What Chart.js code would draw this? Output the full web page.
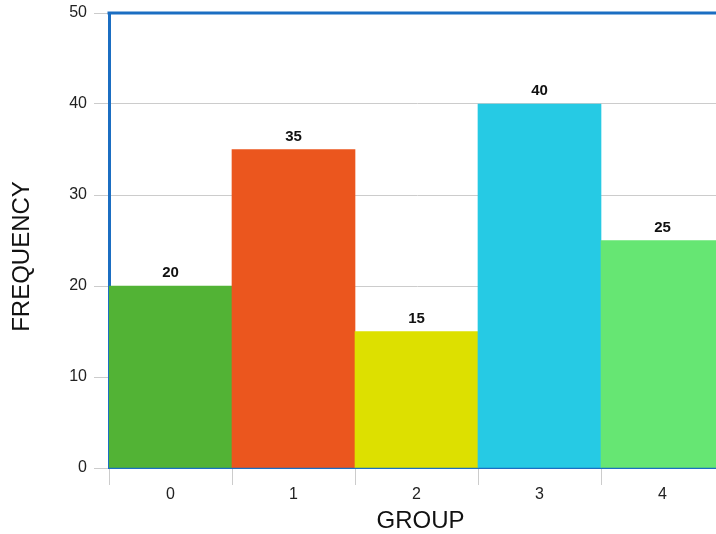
<!DOCTYPE html>
<html>
<head>
<meta charset="utf-8">
<script src="https://cdn.jsdelivr.net/npm/chart.js@4/dist/chart.umd.min.js"></script>
<style>
html,body{margin:0;padding:0;background:#fff;overflow:hidden;width:716px;height:534px;}
canvas{display:block;position:absolute;left:0;top:0;}
</style>
</head>
<body>
<canvas id="c" width="740" height="534"></canvas>
<script>
const categories = ['0', '1', '2', '3', '4'];
const frequencies = [20, 35, 15, 40, 25];
const barColors = ['#52b335', '#eb561e', '#dde000', '#26cae4', '#66e673'];
const yTicks = [0, 10, 20, 30, 40, 50];
const xTitle = 'GROUP';
const yTitle = 'FREQUENCY';

const FONT = "'Liberation Sans', Arial, sans-serif";
const BLUE = '#1b6ec2';

const valueLabels = {
  id: 'valueLabels',
  afterDatasetsDraw(chart) {
    const ctx = chart.ctx;
    const meta = chart.getDatasetMeta(0);
    ctx.save();
    ctx.font = 'bold 15px ' + FONT;
    ctx.fillStyle = '#111';
    ctx.textAlign = 'center';
    ctx.textBaseline = 'alphabetic';
    meta.data.forEach((bar, i) => {
      ctx.fillText(String(chart.data.datasets[0].data[i]), bar.x, bar.y - 9);
    });
    ctx.restore();
  }
};

const frameAndTitles = {
  id: 'frameAndTitles',
  afterDraw(chart) {
    const {ctx, chartArea} = chart;
    ctx.save();
    ctx.strokeStyle = BLUE;
    ctx.lineWidth = 3;
    ctx.beginPath();
    ctx.moveTo(chartArea.left - 1.5, chartArea.top);
    ctx.lineTo(chartArea.right, chartArea.top);
    ctx.stroke();

    ctx.fillStyle = '#111';
    ctx.font = '24px ' + FONT;
    ctx.textAlign = 'center';
    ctx.textBaseline = 'middle';
    const cx = (chartArea.left + chartArea.right) / 2 + 4;
    ctx.fillText(xTitle, cx, 521);
    ctx.translate(22, (chartArea.top + chartArea.bottom) / 2 + 16);
    ctx.rotate(-Math.PI / 2);
    ctx.fillText(yTitle, 0, 0);
    ctx.restore();
  }
};

new Chart(document.getElementById('c'), {
  type: 'bar',
  data: {
    labels: categories,
    datasets: [{
      data: frequencies,
      backgroundColor: barColors,
      borderWidth: 0,
      categoryPercentage: 1.0,
      barPercentage: 1.0
    }]
  },
  options: {
    responsive: false,
    animation: false,
    layout: { padding: { top: 13, right: 16, left: 0, bottom: 0 } },
    plugins: { legend: { display: false }, tooltip: { enabled: false } },
    scales: {
      x: {
        offset: true,
        grid: { display: true, drawOnChartArea: false, drawTicks: true, tickLength: 17, color: '#cccccc', lineWidth: 1, offset: true },
        border: { display: true, color: BLUE, width: 2 },
        ticks: { color: '#222', font: { family: FONT, size: 16 }, padding: 0 },
        title: { display: false },
        afterFit(scale) { scale.height = 66; scale.paddingLeft = 0; scale.paddingRight = 0; }
      },
      y: {
        min: 0,
        max: 50,
        afterBuildTicks(scale) { scale.ticks = yTicks.map(v => ({ value: v })); },
        grid: { color: '#cccccc', lineWidth: 1, tickLength: 15, drawTicks: true },
        border: { display: true, color: BLUE, width: 3 },
        ticks: { color: '#222', font: { family: FONT, size: 16 }, padding: 7 },
        title: { display: false },
        afterFit(scale) { scale.width = 109; scale.paddingTop = 0; scale.paddingBottom = 0; }
      }
    }
  },
  plugins: [valueLabels, frameAndTitles]
});
</script>
</body>
</html>
